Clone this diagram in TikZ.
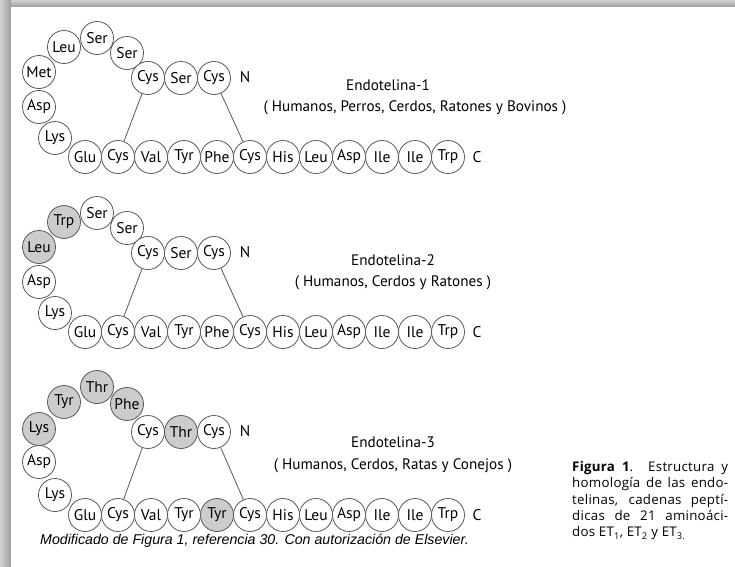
\documentclass[tikz,border=0pt]{standalone}
\usepackage{fontspec}
\setmainfont{PT Sans}
\newfontfamily\ftfont{Liberation Sans}
\newfontfamily\capfont[LetterSpace=2]{Open Sans}
\newcommand\capline[1]{\makebox[156pt][s]{#1}}
\begin{document}
\begin{tikzpicture}[x=1pt,y=-1pt,
  aa/.style={circle,draw=black!65,line width=0.8pt,fill=white,minimum size=33pt,inner sep=0pt,font=\fontsize{15.5}{15.5}\selectfont},
  sh/.style={fill=black!20},
  bond/.style={draw=black!65,line width=0.8pt},
  endlbl/.style={font=\fontsize{15.5}{16}\selectfont,inner sep=0pt},
  lbl/.style={font=\fontsize{15.2}{17}\selectfont,inner sep=0pt}]
\useasboundingbox (0,0) rectangle (735,566);
\shade[top color=black!18,bottom color=black!38] (0,0) rectangle (735,7);
\shade[left color=black!18,right color=black!38] (0,0) rectangle (11,566);
\fill[white] (11,7) rectangle (735,566);
\newcommand\res[5]{\node[aa,#5] (#1) at (#2,#3) {#4};}
% ---------- Panel 1 ----------
\begin{scope}
\res{Al1}{55}{138}{Lys}{}
\res{Al2}{39}{107}{Asp}{}
\res{Al3}{39}{72}{Met}{}
\res{Al4}{64}{47}{Leu}{}
\res{Al5}{97}{38}{Ser}{}
\res{Al6}{127}{53}{Ser}{}
\res{At1}{148}{78}{Cys}{}
\res{At2}{181}{78}{Ser}{}
\res{At3}{214}{78}{Cys}{}
\node[endlbl] (AN) at (245,77) {N};
\res{Ab1}{85}{157}{Glu}{}
\res{Ab2}{118}{157}{Cys}{}
\res{Ab3}{151}{157}{Val}{}
\res{Ab4}{184}{157}{Tyr}{}
\res{Ab5}{217}{157}{Phe}{}
\res{Ab6}{250}{157}{Cys}{}
\res{Ab7}{283}{157}{His}{}
\res{Ab8}{316}{157}{Leu}{}
\res{Ab9}{349}{157}{Asp}{}
\res{Ab10}{382}{157}{Ile}{}
\res{Ab11}{415}{157}{Ile}{}
\res{Ab12}{448}{157}{Trp}{}
\node[endlbl] (AC) at (477,157) {C};
\draw[bond] (At1) -- (Ab2);
\draw[bond] (At3) -- (Ab6);
\node[lbl] (At) at (388,85) {Endotelina-1};
\node[lbl] (As) at (415,108) {( Humanos, Perros, Cerdos, Ratones y Bovinos )};
\end{scope}
% ---------- Panel 2 ----------
\begin{scope}[shift={(0,175)}]
\res{Bl1}{55}{138}{Lys}{}
\res{Bl2}{39}{107}{Asp}{}
\res{Bl3}{39}{72}{Leu}{sh}
\res{Bl4}{64}{47}{Trp}{sh}
\res{Bl5}{97}{38}{Ser}{}
\res{Bl6}{127}{53}{Ser}{}
\res{Bt1}{148}{78}{Cys}{}
\res{Bt2}{181}{78}{Ser}{}
\res{Bt3}{214}{78}{Cys}{}
\node[endlbl] (BN) at (245,77) {N};
\res{Bb1}{85}{157}{Glu}{}
\res{Bb2}{118}{157}{Cys}{}
\res{Bb3}{151}{157}{Val}{}
\res{Bb4}{184}{157}{Tyr}{}
\res{Bb5}{217}{157}{Phe}{}
\res{Bb6}{250}{157}{Cys}{}
\res{Bb7}{283}{157}{His}{}
\res{Bb8}{316}{157}{Leu}{}
\res{Bb9}{349}{157}{Asp}{}
\res{Bb10}{382}{157}{Ile}{}
\res{Bb11}{415}{157}{Ile}{}
\res{Bb12}{448}{157}{Trp}{}
\node[endlbl] (BC) at (477,157) {C};
\draw[bond] (Bt1) -- (Bb2);
\draw[bond] (Bt3) -- (Bb6);
\node[lbl] (Bt) at (393,85) {Endotelina-2};
\node[lbl] (Bs) at (393,108) {( Humanos, Cerdos y Ratones )};
\end{scope}
% ---------- Panel 3 ----------
\begin{scope}[shift={(0,355)}]
\res{Cl1}{55}{140}{Lys}{}
\res{Cl2}{39}{107}{Asp}{}
\res{Cl3}{39}{74}{Lys}{sh}
\res{Cl4}{64}{47}{Tyr}{sh}
\res{Cl5}{97}{32}{Thr}{sh}
\res{Cl6}{127}{49}{Phe}{sh}
\res{Ct1}{148}{77}{Cys}{}
\res{Ct2}{181}{77}{Thr}{sh}
\res{Ct3}{214}{77}{Cys}{}
\node[endlbl] (CN) at (245,76) {N};
\res{Cb1}{85}{160}{Glu}{}
\res{Cb2}{118}{160}{Cys}{}
\res{Cb3}{151}{160}{Val}{}
\res{Cb4}{184}{160}{Tyr}{}
\res{Cb5}{217}{160}{Tyr}{sh}
\res{Cb6}{250}{160}{Cys}{}
\res{Cb7}{283}{160}{His}{}
\res{Cb8}{316}{160}{Leu}{}
\res{Cb9}{349}{160}{Asp}{}
\res{Cb10}{382}{160}{Ile}{}
\res{Cb11}{415}{160}{Ile}{}
\res{Cb12}{448}{160}{Trp}{}
\node[endlbl] (CC) at (477,160) {C};
\draw[bond] (Ct1) -- (Cb2);
\draw[bond] (Ct3) -- (Cb6);
\node[lbl] (Ct) at (393,87) {Endotelina-3};
\node[lbl] (Cs) at (393,111) {( Humanos, Cerdos, Ratas y Conejos )};
\end{scope}
% ---------- captions ----------
\node[anchor=west,inner sep=0pt,font=\ftfont\itshape\fontsize{14.2}{16}\selectfont] (foot) at (40,541)
  {Modificado de Figura 1, referencia 30. Con autorización de Elsevier.};
\node[anchor=north west,inner sep=0pt,align=left,
  font=\capfont\fontsize{13.3}{16.4}\selectfont] (cap) at (572,461)
  {\capline{\textbf{Figura 1}. Estructura y}\\
   \capline{homología de las endo-}\\
   \capline{telinas, cadenas peptí-}\\
   \capline{dicas de 21 aminoáci-}\\
   dos ET\textsubscript{1}, ET\textsubscript{2} y ET\textsubscript{3.}};
\end{tikzpicture}
\end{document}
